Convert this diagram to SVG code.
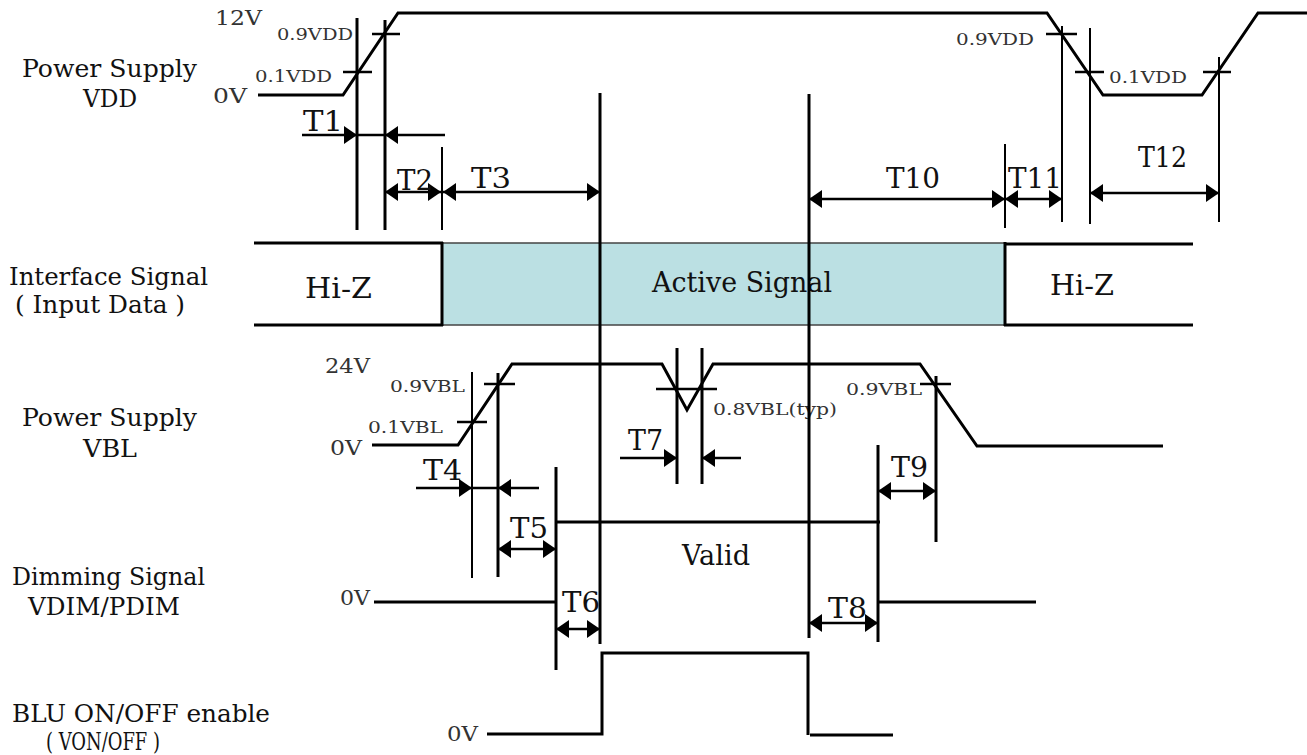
<svg xmlns="http://www.w3.org/2000/svg" width="1307" height="755" viewBox="0 0 1307 755">
<style>
  text { font-family: "DejaVu Serif", "Liberation Serif", serif; fill: #111; }
  .row { font-size: 25px; }
  .big { font-size: 27px; }
  .t { font-size: 27px; }
  .sm { font-size: 17px; fill: #333; }
  .v { font-size: 20px; fill: #333; }
  .sig { fill: none; stroke: #000; stroke-width: 3; stroke-linejoin: miter; }
  .mk { stroke: #000; stroke-width: 3; fill: none; }
  .mkt { stroke: #000; stroke-width: 2; fill: none; }
  .tick { stroke: #000; stroke-width: 2.5; fill: none; }
  .arr { stroke: #000; stroke-width: 2.5; fill: none; }
</style>
<defs>
  <marker id="ah" markerUnits="userSpaceOnUse" markerWidth="14" markerHeight="20" refX="13" refY="9" orient="auto-start-reverse">
    <path d="M0,0 L13,9 L0,18 z" fill="#000"/>
  </marker>
</defs>
<rect width="1307" height="755" fill="#fff"/>

<g id="labels">
  <text class="row" x="22" y="77" textLength="175" lengthAdjust="spacingAndGlyphs">Power Supply</text>
  <text class="row" x="83" y="107" textLength="54" lengthAdjust="spacingAndGlyphs">VDD</text>
  <text class="row" x="9" y="285" textLength="199" lengthAdjust="spacingAndGlyphs">Interface Signal</text>
  <text class="row" x="15" y="313" textLength="170" lengthAdjust="spacingAndGlyphs">( Input Data )</text>
  <text class="row" x="22" y="426" textLength="175" lengthAdjust="spacingAndGlyphs">Power Supply</text>
  <text class="row" x="83" y="457" textLength="54" lengthAdjust="spacingAndGlyphs">VBL</text>
  <text class="row" x="12" y="585" textLength="193" lengthAdjust="spacingAndGlyphs">Dimming Signal</text>
  <text class="row" x="28" y="615" textLength="152" lengthAdjust="spacingAndGlyphs">VDIM/PDIM</text>
  <text class="row" x="12" y="722" textLength="258" lengthAdjust="spacingAndGlyphs">BLU ON/OFF enable</text>
  <text class="row" x="46" y="750" textLength="114" lengthAdjust="spacingAndGlyphs">( VON/OFF )</text>
</g>

<g id="vdd">
  <polyline class="sig" points="258,95 343,95 398,13 1047,13 1103,95 1202,95 1258,13 1307,13"/>
  <line class="tick" x1="372" y1="34" x2="400" y2="34"/>
  <line class="tick" x1="343" y1="72" x2="372" y2="72"/>
  <line class="tick" x1="1046" y1="34" x2="1077" y2="34"/>
  <line class="tick" x1="1075" y1="72" x2="1104" y2="72"/>
  <line class="tick" x1="1203" y1="72" x2="1231" y2="72"/>
  <text class="v" x="215" y="25" textLength="47" lengthAdjust="spacingAndGlyphs">12V</text>
  <text class="sm" x="277" y="40" textLength="76" lengthAdjust="spacingAndGlyphs">0.9VDD</text>
  <text class="sm" x="255" y="82" textLength="77" lengthAdjust="spacingAndGlyphs">0.1VDD</text>
  <text class="v" x="213" y="103" textLength="34" lengthAdjust="spacingAndGlyphs">0V</text>
  <text class="sm" x="956" y="45" textLength="78" lengthAdjust="spacingAndGlyphs">0.9VDD</text>
  <text class="sm" x="1109" y="83" textLength="78" lengthAdjust="spacingAndGlyphs">0.1VDD</text>
</g>

<g id="interface">
  <rect x="442" y="243" width="563" height="82" fill="#BBE0E3" stroke="#444" stroke-width="1.5"/>
  <line class="sig" x1="254" y1="243" x2="443" y2="243"/>
  <line class="sig" x1="254" y1="325" x2="443" y2="325"/>
  <line class="sig" x1="442" y1="242" x2="442" y2="326"/>
  <line class="sig" x1="1005" y1="242" x2="1005" y2="326"/>
  <line class="sig" x1="1004" y1="244" x2="1193" y2="244"/>
  <line class="sig" x1="1004" y1="325" x2="1193" y2="325"/>
  <text class="big" x="305" y="298" textLength="67" lengthAdjust="spacingAndGlyphs">Hi-Z</text>
  <text class="big" x="652" y="292" textLength="180" lengthAdjust="spacingAndGlyphs">Active Signal</text>
  <text class="big" x="1050" y="295" textLength="64" lengthAdjust="spacingAndGlyphs">Hi-Z</text>
</g>

<g id="vbl">
  <polyline class="sig" points="372,445 458,445 512,364 662,364 687,410 713,364 920,364 977,446 1163,446"/>
  <line class="tick" x1="484" y1="384" x2="515" y2="384"/>
  <line class="tick" x1="457" y1="422" x2="487" y2="422"/>
  <line class="tick" x1="656" y1="389" x2="717" y2="389"/>
  <line class="tick" x1="920" y1="384" x2="951" y2="384"/>
  <text class="v" x="325" y="373" textLength="45" lengthAdjust="spacingAndGlyphs">24V</text>
  <text class="sm" x="390" y="392" textLength="75" lengthAdjust="spacingAndGlyphs">0.9VBL</text>
  <text class="sm" x="368" y="433" textLength="75" lengthAdjust="spacingAndGlyphs">0.1VBL</text>
  <text class="v" x="330" y="455" textLength="32" lengthAdjust="spacingAndGlyphs">0V</text>
  <text class="sm" x="713" y="415" textLength="124" lengthAdjust="spacingAndGlyphs">0.8VBL(typ)</text>
  <text class="sm" x="846" y="395" textLength="76" lengthAdjust="spacingAndGlyphs">0.9VBL</text>
</g>

<g id="dimming">
  <line class="sig" x1="374" y1="602" x2="556" y2="602"/>
  <line class="sig" x1="556" y1="522" x2="880" y2="522"/>
  <line class="sig" x1="878" y1="602" x2="1036" y2="602"/>
  <text class="big" x="682" y="565" textLength="68" lengthAdjust="spacingAndGlyphs">Valid</text>
  <text class="v" x="340" y="605" textLength="30" lengthAdjust="spacingAndGlyphs">0V</text>
</g>

<g id="blu">
  <polyline class="sig" points="487,734 602,734 602,653 808,653 808,735"/>
  <line class="sig" x1="810" y1="735" x2="893" y2="735"/>
  <text class="v" x="447" y="741" textLength="31" lengthAdjust="spacingAndGlyphs">0V</text>
</g>

<g id="markers">
  <line class="mk" x1="357" y1="18" x2="357" y2="230"/>
  <line class="mk" x1="385" y1="20" x2="385" y2="230"/>
  <line class="mkt" x1="442" y1="147" x2="442" y2="230"/>
  <line class="mk" x1="600" y1="93" x2="600" y2="644"/>
  <line class="mk" x1="809" y1="94" x2="809" y2="638"/>
  <line class="mkt" x1="1005" y1="144" x2="1005" y2="228"/>
  <line class="mkt" x1="1062" y1="26" x2="1062" y2="222"/>
  <line class="mkt" x1="1090" y1="28" x2="1090" y2="224"/>
  <line class="mkt" x1="1219" y1="57" x2="1219" y2="222"/>
  <line class="mkt" x1="472" y1="372" x2="472" y2="578"/>
  <line class="mk" x1="498" y1="373" x2="498" y2="577"/>
  <line class="mk" x1="556" y1="467" x2="556" y2="670"/>
  <line class="mk" x1="677" y1="348" x2="677" y2="484"/>
  <line class="mk" x1="702" y1="348" x2="702" y2="484"/>
  <line class="mk" x1="878" y1="445" x2="878" y2="642"/>
  <line class="mk" x1="936" y1="376" x2="936" y2="542"/>
</g>

<g id="connectors">
  <line class="arr" x1="302" y1="135" x2="357" y2="135" marker-end="url(#ah)"/>
  <line class="arr" x1="357" y1="135" x2="385" y2="135"/>
  <line class="arr" x1="445" y1="135" x2="385" y2="135" marker-end="url(#ah)"/>
  <line class="arr" x1="385" y1="192" x2="441" y2="192" marker-start="url(#ah)" marker-end="url(#ah)"/>
  <line class="arr" x1="443" y1="192" x2="600" y2="192" marker-start="url(#ah)" marker-end="url(#ah)"/>
  <line class="arr" x1="809" y1="199" x2="1005" y2="199" marker-start="url(#ah)" marker-end="url(#ah)"/>
  <line class="arr" x1="1005" y1="199" x2="1062" y2="199" marker-start="url(#ah)" marker-end="url(#ah)"/>
  <line class="arr" x1="1090" y1="193" x2="1219" y2="193" marker-start="url(#ah)" marker-end="url(#ah)"/>
  <line class="arr" x1="416" y1="488" x2="472" y2="488" marker-end="url(#ah)"/>
  <line class="arr" x1="472" y1="488" x2="498" y2="488"/>
  <line class="arr" x1="539" y1="488" x2="498" y2="488" marker-end="url(#ah)"/>
  <line class="arr" x1="498" y1="549" x2="556" y2="549" marker-start="url(#ah)" marker-end="url(#ah)"/>
  <line class="arr" x1="556" y1="629" x2="600" y2="629" marker-start="url(#ah)" marker-end="url(#ah)"/>
  <line class="arr" x1="620" y1="458" x2="677" y2="458" marker-end="url(#ah)"/>
  <line class="arr" x1="741" y1="458" x2="702" y2="458" marker-end="url(#ah)"/>
  <line class="arr" x1="809" y1="623" x2="878" y2="623" marker-start="url(#ah)" marker-end="url(#ah)"/>
  <line class="arr" x1="878" y1="491" x2="936" y2="491" marker-start="url(#ah)" marker-end="url(#ah)"/>
  <text class="t" x="303" y="131" textLength="40" lengthAdjust="spacingAndGlyphs">T1</text>
  <text class="t" x="397" y="190" textLength="36" lengthAdjust="spacingAndGlyphs">T2</text>
  <text class="t" x="471" y="188" textLength="40" lengthAdjust="spacingAndGlyphs">T3</text>
  <text class="t" x="886" y="188" textLength="54" lengthAdjust="spacingAndGlyphs">T10</text>
  <text class="t" x="1008" y="188" textLength="54" lengthAdjust="spacingAndGlyphs">T11</text>
  <text class="t" x="1138" y="167" textLength="49" lengthAdjust="spacingAndGlyphs">T12</text>
  <text class="t" x="423" y="480" textLength="39" lengthAdjust="spacingAndGlyphs">T4</text>
  <text class="t" x="510" y="538" textLength="38" lengthAdjust="spacingAndGlyphs">T5</text>
  <text class="t" x="562" y="612" textLength="38" lengthAdjust="spacingAndGlyphs">T6</text>
  <text class="t" x="628" y="450" textLength="35" lengthAdjust="spacingAndGlyphs">T7</text>
  <text class="t" x="828" y="618" textLength="39" lengthAdjust="spacingAndGlyphs">T8</text>
  <text class="t" x="891" y="477" textLength="37" lengthAdjust="spacingAndGlyphs">T9</text>
</g>
</svg>
